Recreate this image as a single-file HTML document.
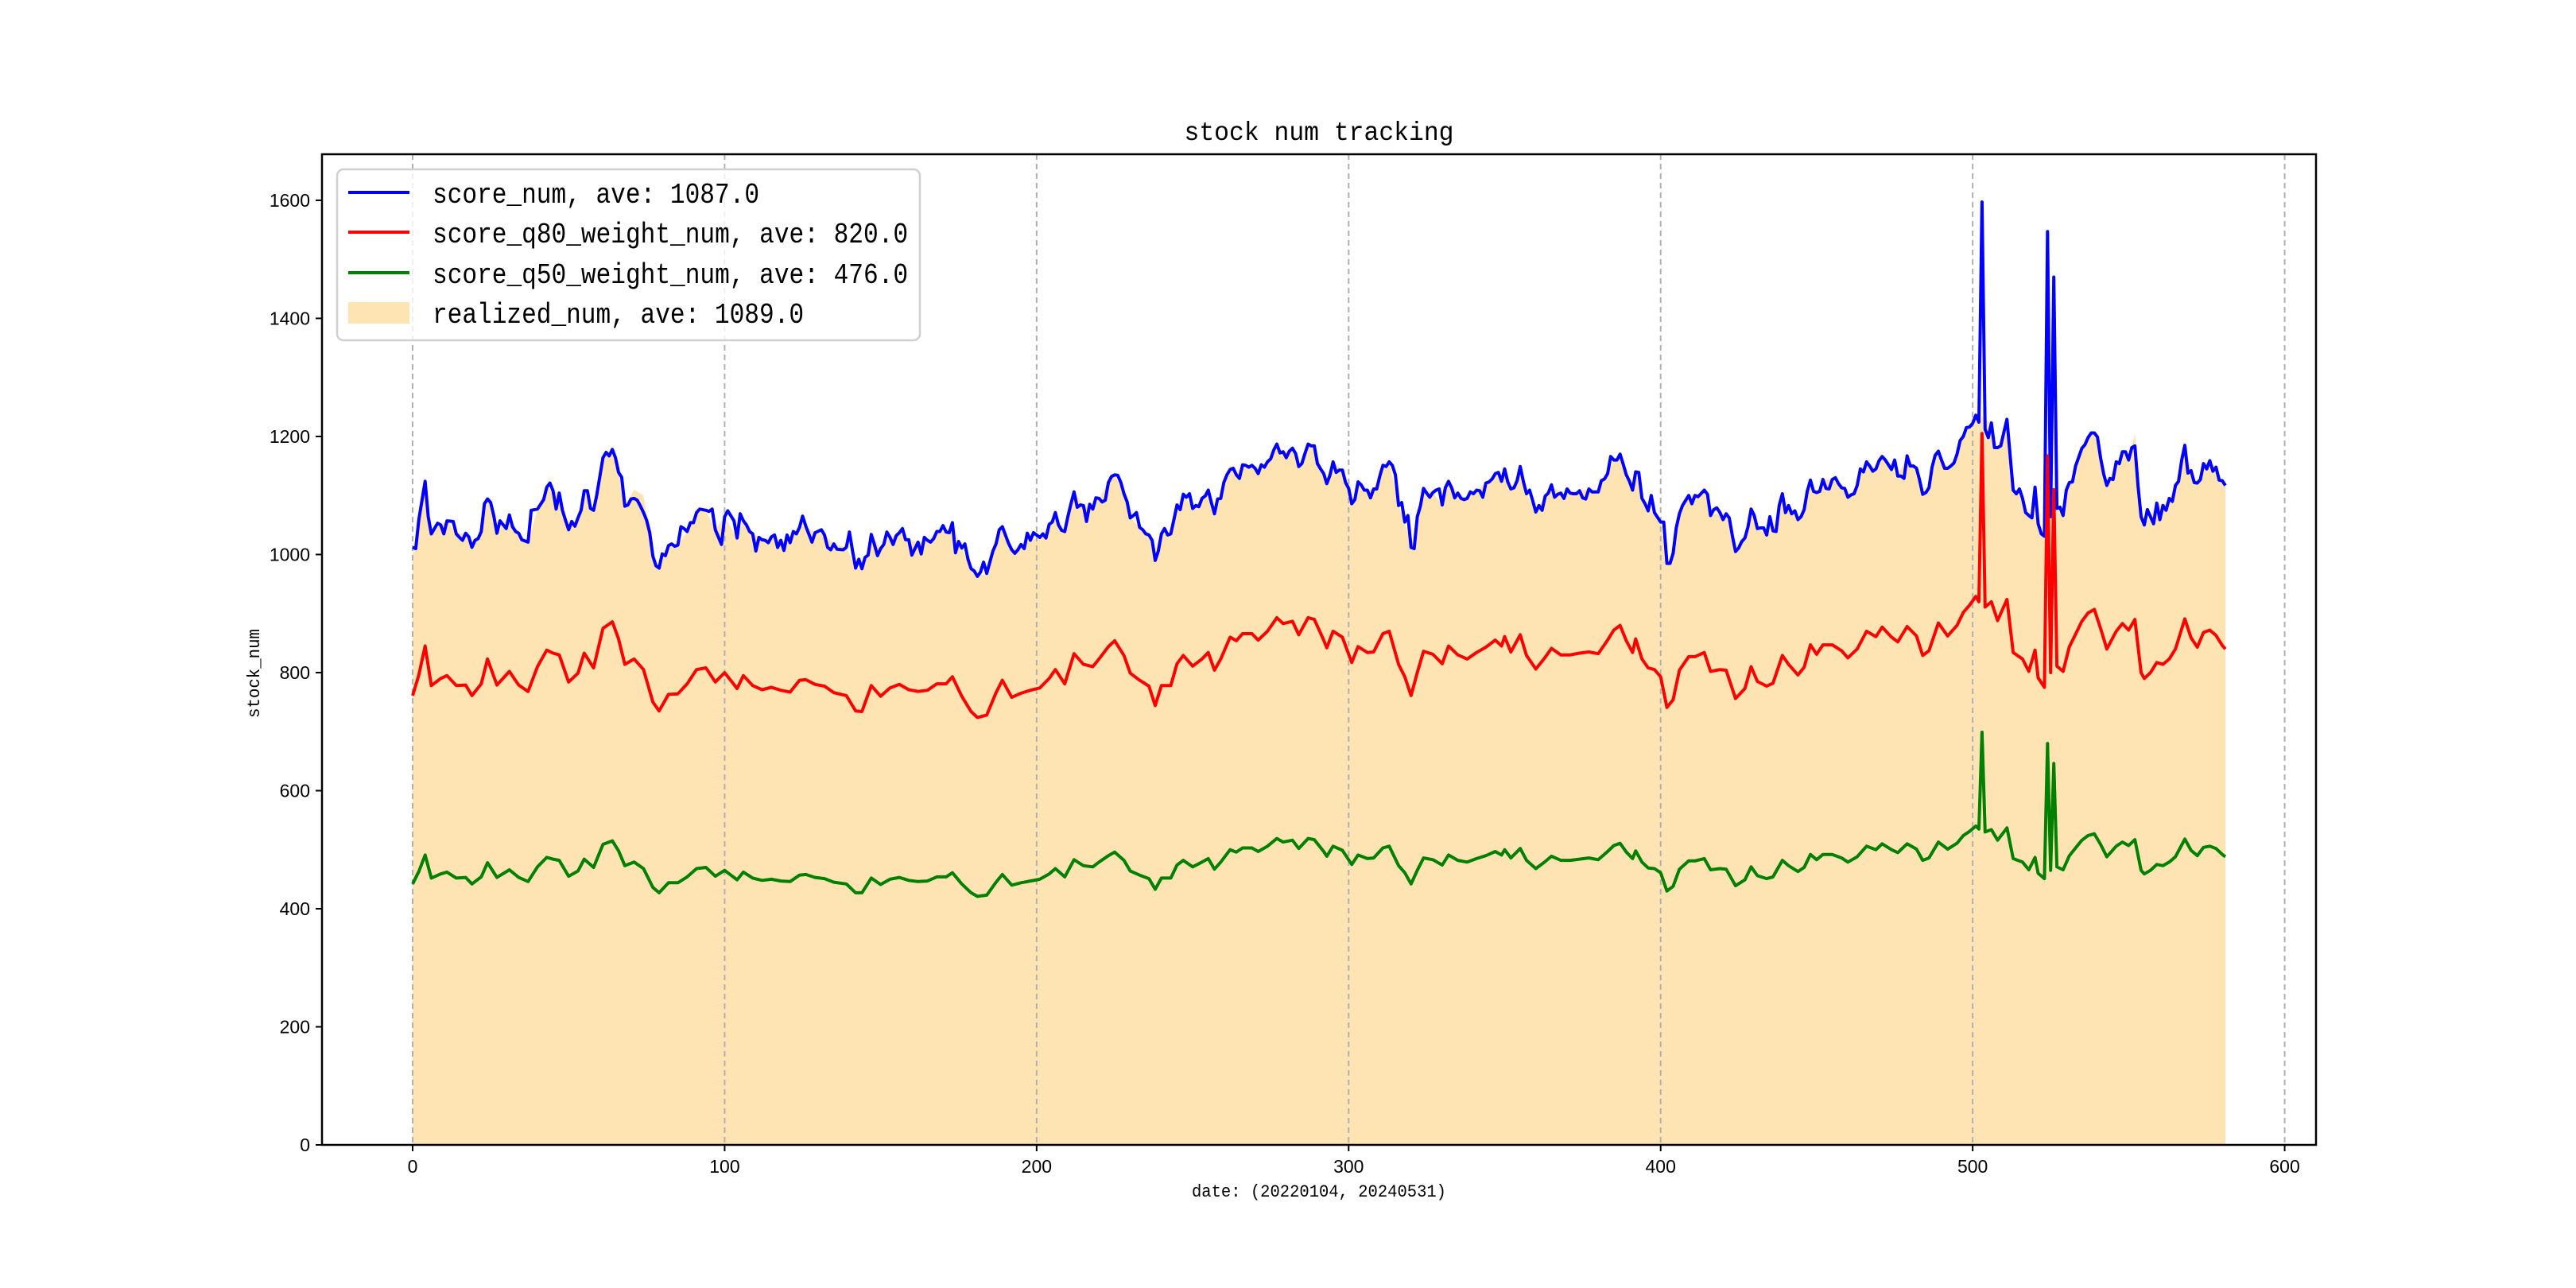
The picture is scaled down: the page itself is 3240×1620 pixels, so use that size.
<!DOCTYPE html>
<html><head><meta charset="utf-8"><style>
html,body{margin:0;padding:0;background:#fff;}
svg{display:block;}
</style></head><body>
<svg id="chart" width="3240" height="1620" viewBox="0 0 3240 1620" xmlns="http://www.w3.org/2000/svg">
<rect x="0" y="0" width="3240" height="1620" fill="#fff"/>
<g id="fillLayer"></g>
<g id="gridLayer"></g>
<g id="lineLayer"></g>
<rect x="405" y="194" width="2508" height="1246" fill="none" stroke="#000" stroke-width="2.5"/>
<g id="tickLayer"></g>
<text x="1659" y="176" text-anchor="middle" font-family="Liberation Mono, monospace" font-size="33" textLength="339" lengthAdjust="spacingAndGlyphs">stock num tracking</text>
<text x="1659" y="1505" text-anchor="middle" font-family="Liberation Mono, monospace" font-size="22" textLength="320" lengthAdjust="spacingAndGlyphs">date: (20220104, 20240531)</text>
<text x="0" y="0" transform="translate(326,847) rotate(-90)" text-anchor="middle" font-family="Liberation Mono, monospace" font-size="22" textLength="112" lengthAdjust="spacingAndGlyphs">stock_num</text>
<g>
<rect x="424" y="213" width="733" height="215" rx="8" fill="#fff" fill-opacity="0.8" stroke="#d0d0d0" stroke-width="2.5"/>
<line x1="438" y1="242" x2="515" y2="242" stroke="#0000ff" stroke-width="4"/>
<text x="544" y="255" font-family="Liberation Mono, monospace" font-size="36" textLength="411" lengthAdjust="spacingAndGlyphs">score_num, ave: 1087.0</text>
<line x1="438" y1="292" x2="515" y2="292" stroke="#ff0000" stroke-width="4"/>
<text x="544" y="305" font-family="Liberation Mono, monospace" font-size="36" textLength="598" lengthAdjust="spacingAndGlyphs">score_q80_weight_num, ave: 820.0</text>
<line x1="438" y1="343" x2="515" y2="343" stroke="#008000" stroke-width="4"/>
<text x="544" y="356" font-family="Liberation Mono, monospace" font-size="36" textLength="598" lengthAdjust="spacingAndGlyphs">score_q50_weight_num, ave: 476.0</text>
<rect x="438" y="380" width="77" height="27" fill="#ffe4b3"/>
<text x="544" y="406" font-family="Liberation Mono, monospace" font-size="36" textLength="467" lengthAdjust="spacingAndGlyphs">realized_num, ave: 1089.0</text>
</g>
</svg>
<script>
const xTicks = [0,100,200,300,400,500,600];
const yTicks = [0,200,400,600,800,1000,1200,1400,1600];
const blueX = [0,1,2,4,5,6,8,9,10,11,13,14,15,16,17,18,19,20,21,22,23,24,25,26,27,28,30,31,32,33,34,35,37,38,40,42,43,44,45,46,47,48,49,50,51,52,53,54,55,56,57,58,59,61,62,63,64,65,66,67,68,69,70,71,72,73,74,75,76,77,78,79,80,81,82,83,84,85,86,87,88,89,90,91,92,94,95,96,97,99,100,101,103,104,105,106,107,108,109,110,111,112,113,114,115,116,117,118,119,120,121,122,123,124,125,126,128,129,131,132,133,134,135,136,138,139,140,141,142,143,144,145,146,147,148,149,150,151,152,153,154,155,156,157,158,159,160,161,162,163,164,165,166,167,168,169,170,171,172,173,174,175,176,177,178,179,180,181,182,183,184,186,187,188,189,190,191,192,193,194,195,196,197,198,199,201,202,203,204,205,206,207,208,209,210,211,212,213,214,215,216,217,218,219,220,221,222,223,224,225,226,227,228,229,230,231,232,233,234,235,236,237,238,239,240,241,242,243,244,245,246,247,248,249,250,251,252,253,254,255,256,257,258,259,260,261,262,263,264,265,266,267,268,269,270,271,272,273,274,275,276,277,278,279,280,281,282,283,284,285,286,287,288,289,290,291,292,293,294,295,296,297,298,299,300,301,302,303,304,305,306,307,308,309,310,311,312,313,314,315,316,317,318,319,320,321,322,323,324,325,326,327,328,329,330,331,332,333,334,335,336,337,338,339,340,341,342,343,344,345,346,347,348,349,350,351,352,353,354,355,356,357,358,359,360,361,362,363,364,365,366,367,368,369,370,371,372,373,374,375,376,377,378,379,380,381,382,383,384,385,386,387,388,389,390,391,392,393,394,395,396,397,398,400,401,402,403,404,405,406,407,409,410,411,412,414,415,416,417,418,419,420,421,422,423,424,425,426,427,428,429,430,431,432,433,434,435,436,437,438,439,440,441,442,443,444,445,446,447,448,449,450,451,452,453,454,455,456,457,458,459,460,461,462,463,464,465,466,467,468,469,470,471,472,473,474,475,476,477,478,479,480,481,482,483,484,485,486,487,488,489,490,491,492,493,494,495,496,497,498,499,500,501,502,503,504,505,506,507,508,509,510,511,512,513,514,515,516,517,518,519,520,521,522,523,524,525,526,527,528,529,530,531,532,533,534,535,536,537,538,539,540,541,542,543,544,545,546,547,548,549,550,551,552,553,554,555,556,557,558,559,560,561,562,563,564,565,566,567,568,569,570,571,572,573,574,575,576,577,578,579,580,581];
const blueY = [1012,1010,1059,1124,1064,1035,1053,1050,1035,1057,1056,1035,1029,1024,1036,1030,1012,1024,1027,1039,1086,1094,1088,1066,1036,1057,1044,1067,1047,1039,1036,1025,1021,1075,1077,1093,1114,1121,1108,1077,1104,1075,1058,1042,1056,1048,1062,1075,1108,1108,1078,1075,1100,1164,1173,1167,1178,1164,1139,1131,1082,1084,1094,1095,1092,1082,1071,1058,1037,997,981,977,1001,998,1015,1018,1014,1016,1047,1044,1039,1054,1054,1071,1077,1075,1073,1077,1042,1017,1064,1074,1057,1028,1069,1057,1050,1039,1035,1006,1029,1025,1024,1020,1030,1033,1012,1024,1007,1033,1020,1039,1035,1046,1065,1048,1021,1037,1042,1033,1012,1008,1018,1009,1008,1012,1038,1006,977,992,976,995,999,1034,1017,998,1010,1017,1038,1029,1017,1032,1037,1044,1025,1025,999,1010,1021,1001,1029,1024,1021,1027,1039,1039,1049,1038,1037,1054,1003,1022,1011,1018,992,976,972,963,970,987,968,1006,1018,1042,1047,1033,1019,1008,1002,1008,1017,1010,1036,1024,1037,1029,1035,1028,1051,1055,1071,1050,1041,1039,1064,1086,1106,1080,1084,1083,1056,1085,1077,1096,1095,1089,1092,1122,1132,1135,1134,1122,1103,1089,1062,1066,1071,1046,1042,1035,1033,1024,990,1006,1035,1044,1033,1035,1059,1084,1076,1102,1097,1103,1078,1083,1081,1095,1099,1109,1088,1069,1094,1095,1122,1135,1144,1146,1135,1129,1152,1151,1148,1151,1146,1137,1152,1148,1157,1162,1177,1187,1172,1174,1164,1175,1180,1171,1149,1154,1171,1187,1184,1184,1154,1145,1137,1120,1134,1157,1139,1143,1143,1122,1112,1086,1093,1123,1118,1109,1109,1096,1111,1111,1133,1151,1149,1157,1151,1135,1083,1088,1055,1066,1012,1010,1064,1082,1112,1104,1097,1105,1109,1111,1084,1113,1124,1113,1096,1104,1095,1093,1095,1106,1103,1109,1108,1097,1121,1123,1128,1137,1139,1124,1145,1123,1111,1113,1125,1149,1124,1103,1109,1091,1072,1083,1075,1099,1104,1118,1097,1102,1104,1095,1111,1104,1103,1103,1108,1096,1094,1111,1106,1106,1106,1125,1128,1137,1166,1160,1160,1170,1153,1135,1124,1109,1140,1139,1095,1086,1074,1100,1071,1055,1055,985,985,1002,1045,1069,1083,1100,1086,1100,1098,1109,1102,1066,1076,1079,1071,1059,1069,1062,1031,1005,1011,1022,1028,1047,1077,1066,1044,1045,1045,1033,1064,1040,1039,1083,1103,1071,1083,1069,1074,1059,1064,1076,1107,1126,1107,1105,1107,1127,1112,1111,1127,1130,1120,1113,1112,1097,1101,1103,1117,1145,1140,1157,1150,1141,1145,1159,1166,1160,1152,1144,1160,1133,1133,1129,1167,1150,1150,1146,1126,1102,1105,1113,1148,1168,1175,1160,1146,1146,1150,1155,1170,1193,1200,1215,1216,1222,1236,1224,1597,1212,1198,1223,1181,1181,1184,1207,1229,1169,1109,1103,1111,1095,1071,1066,1062,1114,1052,1035,1031,1547,1064,1470,1078,1080,1066,1109,1122,1123,1150,1165,1180,1186,1198,1206,1206,1199,1164,1136,1117,1129,1127,1157,1154,1174,1174,1160,1181,1184,1117,1064,1050,1076,1064,1052,1087,1059,1083,1075,1095,1090,1117,1124,1160,1185,1138,1142,1122,1121,1127,1154,1145,1159,1141,1148,1126,1125,1117];
const subX = [0,2,4,6,9,11,14,17,19,22,24,27,31,34,37,40,43,45,47,50,53,55,58,61,64,66,68,71,74,77,79,82,85,88,91,94,97,100,104,106,109,112,115,118,121,124,126,129,132,135,139,142,144,147,150,153,156,159,162,165,168,171,173,176,179,181,184,187,189,192,195,198,201,204,206,209,212,215,218,220,223,225,228,230,233,236,238,240,243,245,247,250,253,255,257,259,262,264,266,269,271,274,277,279,282,284,287,289,292,293,295,298,301,303,306,308,311,313,316,318,320,322,324,327,330,332,335,338,341,344,347,349,350,352,355,357,360,363,365,368,371,374,377,380,383,385,387,389,391,392,394,396,398,400,402,404,406,409,411,414,416,419,421,424,427,429,431,434,436,439,441,444,446,448,450,452,455,458,460,463,466,469,471,474,476,479,482,484,486,489,492,495,497,499,501,502,503,504,506,508,511,513,516,518,520,521,523,524,525,526,527,529,531,533,535,537,539,541,543,546,548,550,552,554,555,557,559,561,563,565,568,570,572,574,576,578,580,581];
const redY = [761,796,845,778,790,795,778,779,761,781,823,779,802,779,768,810,838,833,830,784,799,833,808,875,886,857,814,823,805,750,735,763,764,781,805,808,784,800,773,795,778,771,775,770,767,787,788,780,777,766,761,735,734,778,760,774,780,771,768,770,781,781,793,760,734,724,728,766,787,758,765,770,774,790,805,781,832,814,810,823,844,854,829,799,787,777,744,778,778,815,829,811,823,834,804,823,860,854,866,866,855,870,893,883,887,864,893,890,855,842,870,860,817,844,834,835,866,870,814,793,761,800,836,831,815,845,830,823,834,843,855,845,861,835,864,829,806,826,841,830,830,833,835,832,855,872,880,854,834,857,823,808,805,793,741,754,804,827,827,834,802,805,804,756,773,810,785,777,782,829,814,796,809,847,831,847,847,837,825,840,870,861,877,860,852,878,862,829,837,884,862,880,902,914,929,920,1205,911,920,888,924,834,823,802,838,791,775,1167,800,1110,811,802,844,865,887,901,907,875,840,870,883,872,890,800,790,800,817,814,823,840,891,859,843,868,872,863,846,840];
const greenY = [442,463,491,452,459,462,452,453,442,454,478,453,466,453,446,471,487,484,482,455,464,484,470,509,515,498,473,479,468,436,427,444,444,454,468,470,455,465,449,462,452,448,450,447,446,457,458,453,451,445,442,427,427,452,441,450,453,448,446,447,454,454,461,442,427,421,423,445,458,440,444,447,450,459,468,454,483,473,471,479,490,496,482,464,457,451,433,452,452,474,482,471,479,485,467,479,500,496,503,503,497,506,519,513,516,502,519,517,497,489,506,499,475,491,485,486,503,506,473,461,442,465,486,483,474,491,482,479,485,490,497,491,500,486,502,482,468,480,489,482,482,484,486,483,497,507,511,496,485,498,479,469,468,461,430,438,467,481,481,485,466,468,467,439,449,471,456,451,454,482,473,463,470,492,483,492,492,486,479,488,506,500,510,500,495,510,501,482,486,513,501,511,524,531,540,535,699,530,534,516,537,485,479,466,487,460,451,680,465,646,471,466,490,503,516,524,527,509,488,506,513,507,517,465,459,465,475,473,479,488,518,499,490,504,506,502,492,488];
const realizedY = [995,1059,1124,1035,1050,1057,1035,1036,1012,1039,1094,1036,1067,1036,1021,1077,1114,1108,1104,1042,1062,1108,1075,1164,1178,1139,1082,1110,1100,997,977,1015,1016,1039,1071,1075,1042,1064,1028,1057,1035,1025,1030,1024,1020,1046,1048,1037,1033,1018,1012,977,976,1034,1010,1029,1037,1025,1021,1024,1039,1038,1054,1011,976,963,968,1018,1047,1008,1017,1024,1029,1051,1071,1039,1106,1083,1077,1095,1122,1135,1103,1062,1046,1033,990,1035,1035,1084,1102,1078,1095,1109,1069,1095,1144,1135,1152,1151,1137,1157,1187,1174,1180,1149,1187,1184,1137,1120,1157,1143,1086,1123,1109,1111,1151,1157,1083,1055,1012,1064,1112,1105,1084,1124,1104,1095,1109,1121,1137,1124,1145,1111,1149,1103,1072,1099,1118,1104,1104,1108,1111,1106,1137,1160,1170,1135,1109,1140,1095,1074,1071,1055,985,1002,1069,1100,1100,1109,1066,1071,1069,1005,1028,1077,1044,1033,1040,1103,1083,1059,1076,1126,1105,1127,1127,1113,1097,1117,1157,1145,1166,1144,1133,1167,1146,1102,1113,1175,1146,1170,1200,1216,1236,1224,1235,1228,1223,1181,1229,1109,1095,1066,1114,1052,1031,1045,1064,1070,1078,1066,1122,1150,1180,1198,1206,1164,1117,1157,1174,1160,1205,1064,1050,1064,1087,1083,1095,1117,1190,1142,1121,1154,1159,1148,1125,1117];

const NS = 'http://www.w3.org/2000/svg';
const L = 405, R = 2913, T = 194, B = 1440;
const XMIN = -29.05, XMAX = 610.05, YMIN = 0, YMAX = 1678;
function xs(u){ return L + (u - XMIN) / (XMAX - XMIN) * (R - L); }
function ys(v){ return B - (v - YMIN) / (YMAX - YMIN) * (B - T); }
function mk(tag, attrs, parent){
  const e = document.createElementNS(NS, tag);
  for (const k in attrs) e.setAttribute(k, attrs[k]);
  parent.appendChild(e);
  return e;
}
const fillLayer = document.getElementById('fillLayer');
const gridLayer = document.getElementById('gridLayer');
const lineLayer = document.getElementById('lineLayer');
const tickLayer = document.getElementById('tickLayer');

let d = 'M' + xs(subX[0]) + ',' + ys(0);
for (let i = 0; i < subX.length; i++) d += ' L' + xs(subX[i]).toFixed(1) + ',' + ys(realizedY[i]).toFixed(1);
d += ' L' + xs(subX[subX.length-1]) + ',' + ys(0) + ' Z';
const area = mk('path', {d: d, fill: '#ffe4b3', stroke: 'none'}, fillLayer);



xTicks.forEach(function(t){
  const g = mk('line', {x1: xs(t), x2: xs(t), y1: T, y2: B, stroke: '#b0b0b0', 'stroke-width': 2, 'stroke-dasharray': '7,5'}, gridLayer);
  
  
  const tk = mk('line', {x1: xs(t), x2: xs(t), y1: B, y2: B + 8, stroke: '#000', 'stroke-width': 2}, tickLayer);
  
  
  const lb = mk('text', {x: xs(t), y: B + 35, 'text-anchor': 'middle', 'font-family': 'Liberation Sans, sans-serif', 'font-size': 23}, tickLayer);
  lb.textContent = String(t);
  
  
});
yTicks.forEach(function(t){
  const tk = mk('line', {x1: L - 8, x2: L, y1: ys(t), y2: ys(t), stroke: '#000', 'stroke-width': 2}, tickLayer);
  
  
  const lb = mk('text', {x: L - 15, y: ys(t) + 8, 'text-anchor': 'end', 'font-family': 'Liberation Sans, sans-serif', 'font-size': 23}, tickLayer);
  lb.textContent = String(t);
  
  
});

function drawLine(xArr, yArr, color){
  let p = '';
  for (let i = 0; i < xArr.length; i++) p += xs(xArr[i]).toFixed(1) + ',' + ys(yArr[i]).toFixed(1) + ' ';
  return mk('polyline', {points: p, fill: 'none', stroke: color, 'stroke-width': 4, 'stroke-linejoin': 'round'}, lineLayer);
}
const l1 = drawLine(blueX, blueY, '#0000ff');


const l2 = drawLine(subX, redY, '#ff0000');


const l3 = drawLine(subX, greenY, '#008000');


</script>
</body></html>
